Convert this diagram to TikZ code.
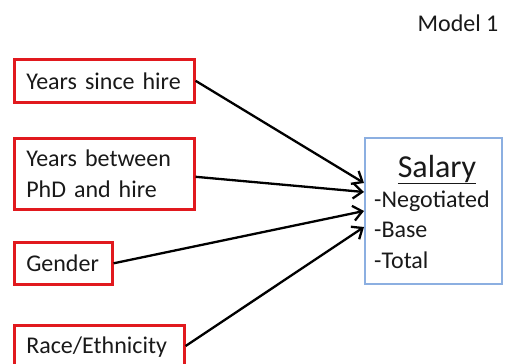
\documentclass[tikz,border=0pt]{standalone}
\usepackage{fontspec}
\setmainfont{Carlito}
\usetikzlibrary{arrows.meta,calc}
\definecolor{boxred}{RGB}{225,25,30}
\definecolor{boxblue}{RGB}{140,175,225}
\definecolor{txt}{RGB}{25,25,25}
\begin{document}
\begin{tikzpicture}[x=1pt,y=-1pt,
  every node/.style={text=txt},
  redbox/.style={draw=boxred, line width=2.6pt, anchor=north west, inner xsep=12pt, inner ysep=0pt,
    align=left, font=\fontsize{24}{31}\selectfont},
  bluebox/.style={draw=boxblue, line width=2.4pt, anchor=north west, inner sep=0pt},
  plain/.style={inner sep=0pt, font=\fontsize{24}{30.5}\selectfont},
  conn/.style={line width=2.3pt, draw=black, -{Straight Barb[length=9pt,width=15pt,line width=2.3pt]}}]
\useasboundingbox (0,0) rectangle (507,364);
\node[plain, anchor=center] (model) at (458,23) {Model 1};
\node[redbox, text width=156pt, minimum height=43pt] (ysh) at (13,58) {Years since hire};
\node[redbox, text width=156pt, minimum height=71pt] (ybt) at (13,137) {Years between\\PhD and hire};
\node[redbox, text width=74pt, minimum height=42pt] (gen) at (13,241) {Gender};
\node[redbox, text width=146pt, minimum height=44pt] (race) at (13,324) {Race/Ethnicity};
\node[bluebox, minimum width=137pt, minimum height=146pt] (sal) at (364,137) {};
\node[plain, anchor=base, font=\fontsize{32}{36}\selectfont] (saltitle) at (437,177) {\underline{Salary}};
\node[plain, anchor=base west, align=left] (salitems) at (374,268) {-Negotiated\\-Base\\-Total};
\draw[conn] (ysh.east) -- ($(sal.north west)+(0,46)$);
\draw[conn] ($(ybt.east)+(0,3)$) -- ($(sal.north west)+(0,55)$);
\draw[conn] (gen.east) -- ($(sal.north west)+(0,74)$);
\draw[conn] ($(race.north east)+(0,22)$) -- ($(sal.north west)+(0,90)$);
\end{tikzpicture}
\end{document}
